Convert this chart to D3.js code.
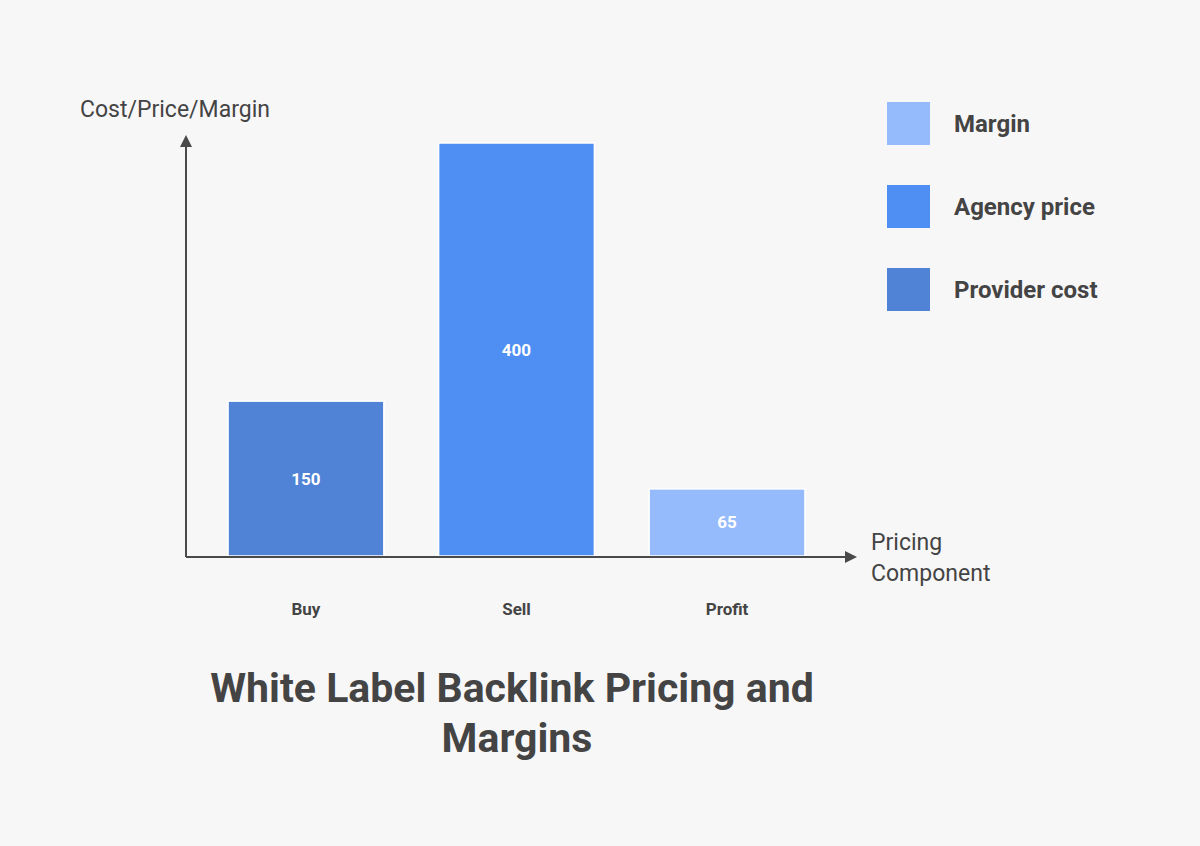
<!DOCTYPE html><html><head><meta charset="utf-8">
<script src="https://cdn.jsdelivr.net/npm/d3@7"></script>
<style>body{margin:0;background:#f8f7f8}svg{display:block;font-family:Roboto,sans-serif}</style></head><body>
<svg id="c" width="1200" height="846"></svg>
<script>
const categories=["Buy","Sell","Profit"];
const values=[150,400,65];
const seriesOf=["Provider cost","Agency price","Margin"];
const legendItems=["Margin","Agency price","Provider cost"];
const colors={"Margin":"#96bbfd","Agency price":"#4f8ff4","Provider cost":"#5082d6"};
const svg=d3.select("#c");
svg.append("rect").attr("width",1200).attr("height",846).attr("fill","#f8f7f8");
const x=d3.scaleBand().domain(categories).range([207,826]).paddingInner(0.26).paddingOuter(0.1);
const y=d3.scaleLinear().domain([0,400]).range([556,143]);
const g=svg.append("g");
g.selectAll("rect.b").data(categories).join("rect").attr("class","b")
 .attr("x",d=>x(d)).attr("width",x.bandwidth())
 .attr("y",(d,i)=>y(values[i])).attr("height",(d,i)=>y(0)-y(values[i]))
 .attr("fill",(d,i)=>colors[seriesOf[i]]).attr("stroke","#fff").attr("stroke-width",1.5);
g.selectAll("text.v").data(categories).join("text")
 .attr("x",d=>x(d)+x.bandwidth()/2).attr("y",(d,i)=>(y(values[i])+y(0))/2+6)
 .attr("text-anchor","middle").attr("fill","#fff").attr("font-weight",700).attr("font-size",17)
 .text((d,i)=>values[i]);
g.selectAll("text.c").data(categories).join("text")
 .attr("x",d=>x(d)+x.bandwidth()/2).attr("y",615).attr("text-anchor","middle")
 .attr("fill","#444").attr("font-weight",700).attr("font-size",17).text(d=>d);
const ax="#4a4a4a";
svg.append("line").attr("x1",186).attr("y1",557).attr("x2",848).attr("y2",557).attr("stroke",ax).attr("stroke-width",2);
svg.append("path").attr("d","M857,557 L845,551 L845,563 Z").attr("fill",ax);
svg.append("line").attr("x1",186).attr("y1",557).attr("x2",186).attr("y2",144).attr("stroke",ax).attr("stroke-width",2);
svg.append("path").attr("d","M186,135 L180,147 L192,147 Z").attr("fill",ax);
svg.append("text").attr("x",80).attr("y",117).attr("font-size",23).attr("fill","#444").text("Cost/Price/Margin");
svg.append("text").attr("x",871).attr("y",550).attr("font-size",23).attr("fill","#444").text("Pricing");
svg.append("text").attr("x",871).attr("y",581).attr("font-size",23).attr("fill","#444").text("Component");
const lg=svg.selectAll("g.l").data(legendItems).join("g").attr("transform",(d,i)=>`translate(887,${102+i*83})`);
lg.append("rect").attr("width",43).attr("height",43).attr("fill",d=>colors[d]);
lg.append("text").attr("x",67).attr("y",30).attr("font-size",24).attr("font-weight",700).attr("fill","#444").text(d=>d);
svg.append("text").attr("x",512).attr("y",702).attr("text-anchor","middle").attr("font-size",41).attr("font-weight",700).attr("fill","#444").text("White Label Backlink Pricing and");
svg.append("text").attr("x",517).attr("y",752).attr("text-anchor","middle").attr("font-size",41).attr("font-weight",700).attr("fill","#444").text("Margins");
</script></body></html>
